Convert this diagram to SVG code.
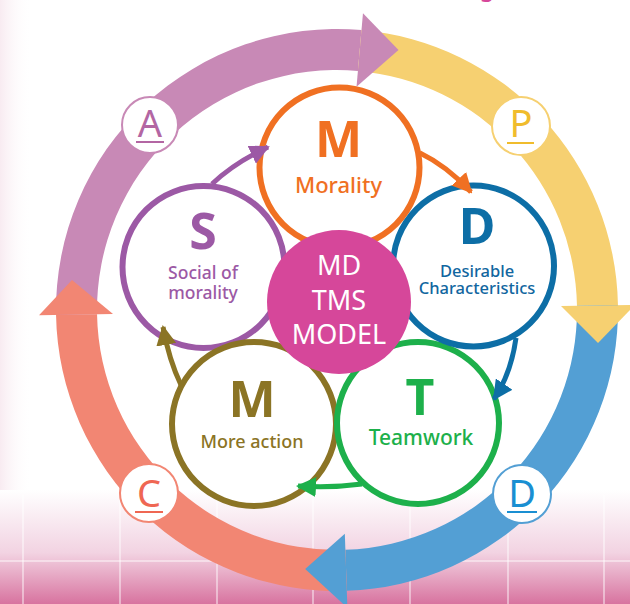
<svg xmlns="http://www.w3.org/2000/svg" width="630" height="604" viewBox="0 0 630 604">
<defs>
<linearGradient id="bg" x1="0" y1="490" x2="0" y2="604" gradientUnits="userSpaceOnUse">
<stop offset="0" stop-color="#ffffff"/>
<stop offset="0.55" stop-color="#f2d3e2"/>
<stop offset="1" stop-color="#d8739f"/>
</linearGradient>
<linearGradient id="lside" x1="0" y1="0" x2="1" y2="0">
<stop offset="0" stop-color="#f8ebf1"/>
<stop offset="1" stop-color="#ffffff" stop-opacity="0"/>
</linearGradient>
<marker id="mPur" viewBox="0 0 10 10" refX="9" refY="5" markerWidth="20" markerHeight="20" markerUnits="userSpaceOnUse" orient="auto"><path d="M0,0 L10,5 L0,10 z" fill="#9c59a5"/></marker>
<marker id="mOra" viewBox="0 0 10 10" refX="9" refY="5" markerWidth="20" markerHeight="20" markerUnits="userSpaceOnUse" orient="auto"><path d="M0,0 L10,5 L0,10 z" fill="#f07022"/></marker>
<marker id="mBlu" viewBox="0 0 10 10" refX="9" refY="5" markerWidth="20" markerHeight="20" markerUnits="userSpaceOnUse" orient="auto"><path d="M0,0 L10,5 L0,10 z" fill="#0d6ea6"/></marker>
<marker id="mGrn" viewBox="0 0 10 10" refX="9" refY="5" markerWidth="20" markerHeight="20" markerUnits="userSpaceOnUse" orient="auto"><path d="M0,0 L10,5 L0,10 z" fill="#1db04b"/></marker>
<marker id="mOli" viewBox="0 0 10 10" refX="9" refY="5" markerWidth="20" markerHeight="20" markerUnits="userSpaceOnUse" orient="auto"><path d="M0,0 L10,5 L0,10 z" fill="#8b7425"/></marker>
</defs>
<style>
text{font-family:"Noto Sans","Open Sans","DejaVu Sans",sans-serif;text-anchor:middle}
.node circle{fill:#ffffff;stroke-width:6}
.big{font-size:50px;font-weight:bold}
.lbl{font-weight:500}
.badge circle{fill:#ffffff;stroke-width:2}
.badge text{font-size:38px}
.badge line{stroke-width:2}
.conn path{fill:none;stroke-width:5}
</style>
<rect width="630" height="604" fill="#ffffff"/>
<rect x="0" y="0" width="32" height="490" fill="url(#lside)"/>
<rect x="0" y="490" width="630" height="114" fill="url(#bg)"/>
<g stroke="#ffffff" stroke-opacity="0.6" stroke-width="1.5">
<line x1="23" y1="495" x2="23" y2="604"/><line x1="120" y1="495" x2="120" y2="604"/><line x1="217" y1="495" x2="217" y2="604"/><line x1="313" y1="495" x2="313" y2="604"/><line x1="410" y1="495" x2="410" y2="604"/><line x1="508" y1="495" x2="508" y2="604"/><line x1="604" y1="495" x2="604" y2="604"/>
<line x1="0" y1="561" x2="630" y2="561"/>
</g>
<text x="487" y="-3" font-size="22" font-weight="bold" fill="#d6479a">g</text>

<g id="outer-ring">
<path d="M56.04,314.9 A281,281 0 0 1 361.49,30.07 L357.92,70.91 A240,240 0 0 0 97.04,314.19 Z" fill="#c889b6"/>
<path d="M361.49,30.07 A281,281 0 0 1 617.96,305.1 L576.96,305.81 A240,240 0 0 0 357.92,70.91 Z" fill="#f6d071"/>
<path d="M617.96,305.1 A281,281 0 0 1 346.81,590.83 L345.38,549.85 A240,240 0 0 0 576.96,305.81 Z" fill="#539fd4"/>
<path d="M346.81,590.83 A281,281 0 0 1 56.04,314.9 L97.04,314.19 A240,240 0 0 0 345.38,549.85 Z" fill="#f28673"/>
<path d="M362.97,13.14 L398.5,50 L356.52,86.85 Z" fill="#c889b6"/>
<path d="M634.96,304.8 L598,343 L560.97,306.09 Z" fill="#f6d071"/>
<path d="M347.4,607.82 L305.19,569.06 L344.82,533.86 Z" fill="#539fd4"/>
<path d="M39.04,315.2 L72,280 L113.03,313.91 Z" fill="#f28673"/>
</g>

<g id="badge-A" class="badge"><circle cx="150" cy="125" r="28" stroke="#c889b6"/><text x="150" y="137" fill="#b366a3">A</text><line x1="136" y1="142" x2="164" y2="142" stroke="#b366a3"/></g>
<g id="badge-P" class="badge"><circle cx="521" cy="126" r="29" stroke="#f6d071"/><text x="521" y="137" fill="#f0bc2c">P</text><line x1="507" y1="143" x2="534" y2="143" stroke="#f0bc2c"/></g>
<g id="badge-C" class="badge"><circle cx="149" cy="493" r="29" stroke="#f28673"/><text x="149" y="507" fill="#ef6753">C</text><line x1="135" y1="512" x2="163" y2="512" stroke="#ef6753"/></g>
<g id="badge-D" class="badge"><circle cx="522" cy="494" r="29" stroke="#539fd4"/><text x="522" y="507" fill="#1a8fd2">D</text><line x1="507" y1="512" x2="537" y2="512" stroke="#1a8fd2"/></g>

<g id="node-S" class="node"><circle cx="203.5" cy="267" r="81" stroke="#9c59a5"/><text x="203" y="249" class="big" fill="#9c59a5">S</text><text x="203" y="279" font-size="17.5" class="lbl" fill="#9c59a5">Social of</text><text x="203" y="299" font-size="17.5" class="lbl" fill="#9c59a5">morality</text></g>
<g id="node-M2" class="node"><circle cx="254" cy="424" r="82" stroke="#8b7425"/><text x="252" y="417" class="big" fill="#8b7425">M</text><text x="252" y="448" font-size="18" class="lbl" fill="#8b7425">More action</text></g>
<g id="node-T" class="node"><circle cx="418" cy="423" r="81" stroke="#1db04b"/><text x="420" y="415" class="big" fill="#1db04b">T</text><text x="421" y="445" font-size="21" class="lbl" fill="#1db04b">Teamwork</text></g>
<g id="node-D" class="node"><circle cx="473.5" cy="266" r="80.5" stroke="#0d6ea6"/><text x="477" y="244" class="big" fill="#0d6ea6">D</text><text x="477" y="277" font-size="16.5" class="lbl" fill="#1166a0">Desirable</text><text x="477" y="294" font-size="16.5" class="lbl" fill="#1166a0">Characteristics</text></g>
<g id="node-M1" class="node"><circle cx="339.5" cy="167.5" r="80" stroke="#f07022"/><text x="338.5" y="157" class="big" fill="#f07022">M</text><text x="338.5" y="193" font-size="22" class="lbl" fill="#f07022">Morality</text></g>

<g id="connectors" class="conn">
<path d="M212,184 Q234,163 268,147" stroke="#9c59a5" marker-end="url(#mPur)"/>
<path d="M420,153 Q447,166 471,192" stroke="#f07022" marker-end="url(#mOra)"/>
<path d="M516,338 Q511,374 494,399" stroke="#0d6ea6" marker-end="url(#mBlu)"/>
<path d="M362,484 Q332,488 298,486" stroke="#1db04b" marker-end="url(#mGrn)"/>
<path d="M181,385 Q169,360 163,327" stroke="#8b7425" marker-end="url(#mOli)"/>
</g>

<g id="node-center"><circle cx="339" cy="302" r="72" fill="#d6479a"/><text x="339" y="275" font-size="27" fill="#ffffff">MD</text><text x="339" y="310" font-size="27" fill="#ffffff">TMS</text><text x="339" y="344" font-size="27" fill="#ffffff">MODEL</text></g>
</svg>
